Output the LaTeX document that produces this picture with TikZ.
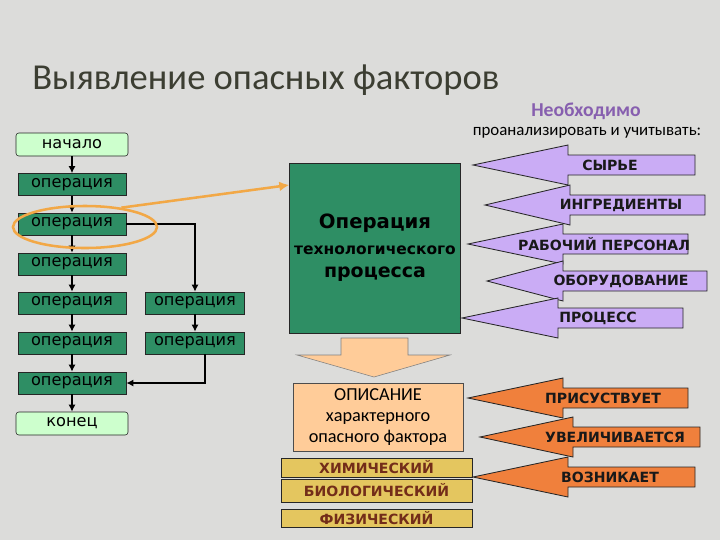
\documentclass[tikz,border=0pt]{standalone}
\usepackage{fontspec}
\setmainfont{Carlito}
\newfontfamily\tahoma{DejaVu Sans}
\usetikzlibrary{arrows.meta, positioning, shapes.geometric}

\definecolor{slidegray}{RGB}{220,220,218}
\definecolor{titlegray}{RGB}{60,62,50}
\definecolor{opgreen}{RGB}{46,142,100}
\definecolor{startgreen}{RGB}{205,255,205}
\definecolor{lavender}{RGB}{202,172,245}
\definecolor{hotorange}{RGB}{240,128,60}
\definecolor{peach}{RGB}{255,204,153}
\definecolor{gold}{RGB}{228,198,95}
\definecolor{rust}{RGB}{115,45,25}
\definecolor{plum}{RGB}{135,95,175}
\definecolor{ringorange}{RGB}{242,168,70}

\begin{document}
\begin{tikzpicture}[x=0.025cm, y=-0.025cm,
    opbox/.style={draw=black!85, fill=opgreen, minimum width=2.7cm, minimum height=0.55cm,
        inner sep=0pt, font=\tahoma\fontsize{11.5}{13}\selectfont},
    termbox/.style={opbox, fill=startgreen, rounded corners=2pt, minimum width=2.8cm, minimum height=0.575cm},
    flow/.style={-{Latex[length=5pt,width=5pt]}, line width=1.6pt, black},
    kindbox/.style={draw=black!85, fill=gold, minimum width=4.775cm, inner sep=0pt,
        text=rust, font=\tahoma\bfseries\fontsize{10}{11}\selectfont},
    factor/.style={draw=black!85, line width=0.6pt},
    factorlbl/.style={font=\tahoma\bfseries\fontsize{10}{11}\selectfont, text=black!90, inner sep=0pt}]

    % Slide background
    \fill[slidegray] (0,0) rectangle (720,540);
    \useasboundingbox (0,0) rectangle (720,540);

    % Title and hint
    \node[anchor=base west, text=titlegray, font=\fontsize{26}{30}\selectfont, inner sep=0pt] (title) at (32,89) {Выявление опасных факторов};
    \node[text=plum, font=\bfseries\fontsize{14}{16}\selectfont] (need) at (586,111) {Необходимо};
    \node[font=\fontsize{12}{14}\selectfont] (consider) at (587,133) {проанализировать и учитывать:};

    % Flowchart of operations
    \node[termbox] (start) at (72,144.5) {начало};
    \node[opbox] (op1) at (72,184.5) {операция};
    \node[opbox] (op2) at (72,224) {операция};
    \node[opbox] (op3) at (72,264) {операция};
    \node[opbox] (op4) at (72,303) {операция};
    \node[opbox] (op5) at (72,343) {операция};
    \node[opbox] (op6) at (72,383) {операция};
    \node[termbox] (finish) at (72,423.5) {конец};
    \node[opbox, minimum width=2.475cm] (side1) at (195,303) {операция};
    \node[opbox, minimum width=2.475cm] (side2) at (195,343) {операция};

    \draw[flow] (start) -- (op1);
    \draw[flow] (op1) -- (op2);
    \draw[flow] (op2) -- (op3);
    \draw[flow] (op3) -- (op4);
    \draw[flow] (op4) -- (op5);
    \draw[flow] (op5) -- (op6);
    \draw[flow] (op6) -- (finish);
    \draw[flow] (op2.east) -| (side1.north);
    \draw[flow] (side1) -- (side2);
    \draw[flow] ([xshift=7pt]side2.south) |- (op6.east);

    % Highlighted operation
    \node[ellipse, draw=ringorange, line width=1.8pt, minimum width=3.6cm, minimum height=1.05cm] (ring) at (85,227) {};

    % Operation of the process
    \node[draw=black!85, fill=opgreen, minimum width=4.1cm, minimum height=4.25cm, align=center,
        font=\tahoma\bfseries] (proc) at (375,248)
        {{\fontsize{14}{18}\selectfont Операция}\\[6pt]{\fontsize{11}{18}\selectfont технологического}\\[5pt]{\fontsize{13.5}{18}\selectfont процесса}};
    \coordinate (hit) at (proc.west |- 0,185);
    \draw[ringorange, line width=1.8pt, -{Latex[length=7pt,width=7pt]}] (ring.28) -- (hit);

    % Arrow down to the description
    \draw[draw=black!50, fill=peach] (341,338) -- (408,338) -- (408,355) -- (450,355) -- (374,377)
        -- (297,355) -- (341,355) -- cycle;
    \node[draw=black!70, fill=peach, minimum width=4.25cm, minimum height=1.7cm, align=center,
        font=\fontsize{13}{15}\selectfont] (desc) at (378,417) {ОПИСАНИЕ\\характерного\\опасного фактора};

    % Kinds of factors
    \node[kindbox, minimum height=0.475cm] (chem) at (376.5,467.5) {ХИМИЧЕСКИЙ};
    \node[kindbox, minimum height=0.575cm] (bio) at (376.5,490.5) {БИОЛОГИЧЕСКИЙ};
    \node[kindbox, minimum height=0.45cm] (phys) at (376.5,518) {ФИЗИЧЕСКИЙ};

    % What to consider
    \foreach \tip/\head/\tail/\y/\lx/\col/\txt [count=\i] in {
        473/568/695/165/610/lavender/СЫРЬЕ,
        485/570/705/205/621/lavender/ИНГРЕДИЕНТЫ,
        468/563/688/244/604/lavender/РАБОЧИЙ ПЕРСОНАЛ,
        487/563/707/281/621/lavender/ОБОРУДОВАНИЕ,
        462/558/683/318/598/lavender/ПРОЦЕСС,
        468/563/688/398/603/hotorange/ПРИСУСТВУЕТ,
        480/573/700/437/615/hotorange/УВЕЛИЧИВАЕТСЯ,
        473/568/695/477/610/hotorange/ВОЗНИКАЕТ} {
        \draw[factor, fill=\col] (\tip,\y) -- (\head,\y-20) -- (\head,\y-10) -- (\tail,\y-10)
            -- (\tail,\y+10) -- (\head,\y+10) -- (\head,\y+20) -- cycle;
        \node[factorlbl] (f\i) at (\lx,\y) {\txt};
    }
\end{tikzpicture}
\end{document}
